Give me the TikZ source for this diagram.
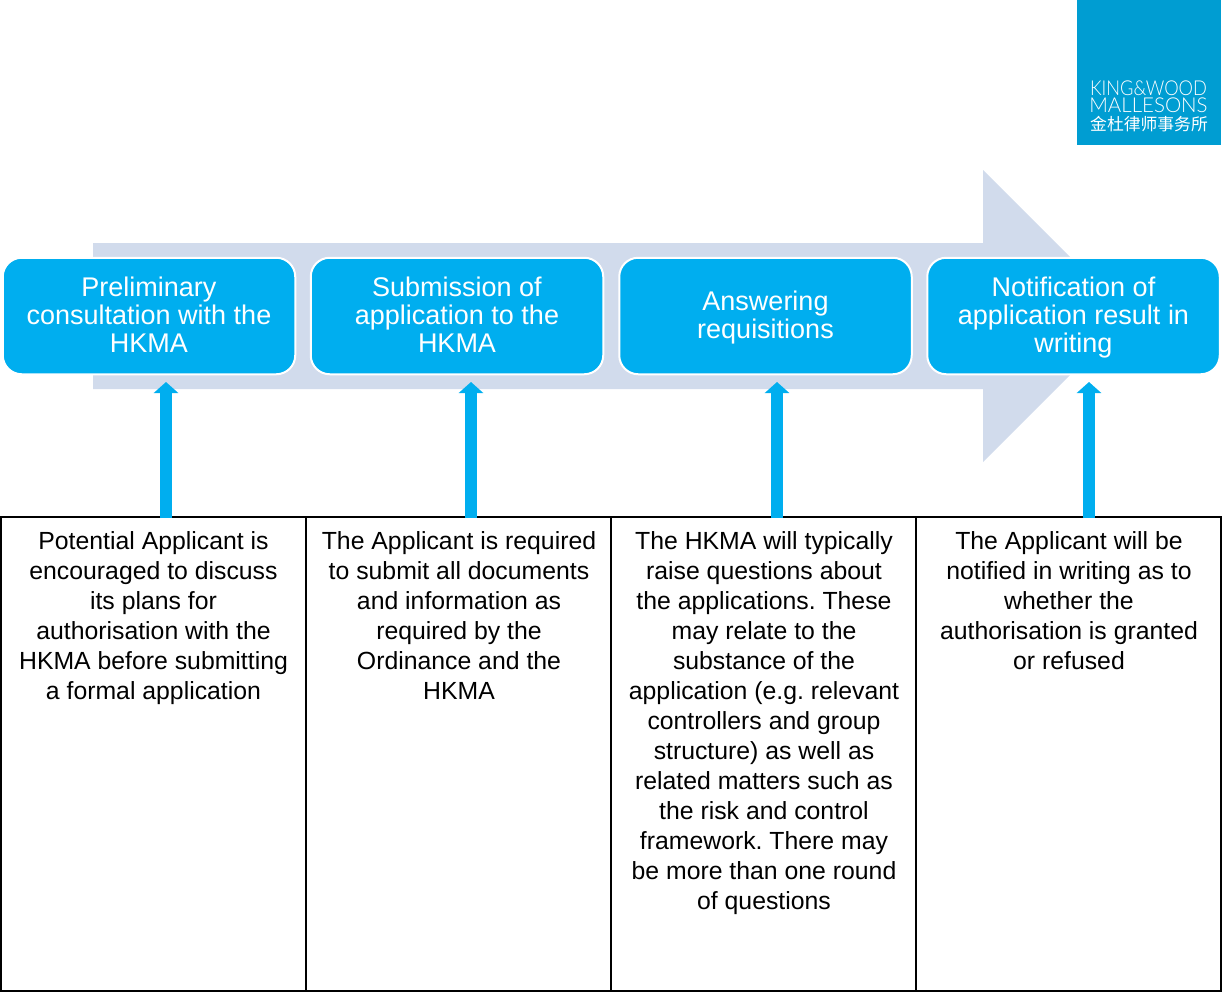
\documentclass[tikz,border=0pt]{standalone}
\usepackage{fontspec}
\setmainfont{Liberation Sans}
\newfontfamily\logolatin{Lato Light}
\newfontfamily\logonarrow[FakeStretch=0.89]{Lato Light}
\newfontfamily\logocjk{Noto Sans CJK SC}
\usetikzlibrary{arrows.meta, positioning}

\definecolor{stepblue}{HTML}{00AEEF}
\definecolor{bandblue}{HTML}{D1DBEC}
\definecolor{logoblue}{HTML}{009DD2}

\newcommand{\stepstrut}{\rule{0pt}{25.6pt}}

\tikzset{
  stepbox/.style={draw=white, line width=2pt, fill=stepblue, rounded corners=19pt,
    minimum width=292.5pt, minimum height=116.5pt, align=center, text=white, inner sep=0pt,
    font=\fontsize{27}{28}\selectfont, execute at end node=\strut},
  cellbox/.style={draw=black, line width=2pt, minimum width=305pt, minimum height=474pt,
    anchor=north west, inner sep=0pt},
  celltext/.style={anchor=north, align=center, inner sep=0pt, font=\fontsize{24.8}{30}\selectfont\frenchspacing},
  feedarrow/.style={draw=stepblue, line width=12pt, -{Triangle[width=24pt,length=11pt]}},
  logotext/.style={text=white, inner sep=0pt, text depth=0pt, anchor=base}
}

\begin{document}
\begin{tikzpicture}[x=1pt,y=-1pt]
\useasboundingbox (0,0) rectangle (1224,994);

\fill [bandblue] (93,243) -- (983,243) -- (983,170) -- (1129,316) -- (983,462) -- (983,389) -- (93,389) -- cycle;

\node [fill=logoblue, minimum width=144pt, minimum height=145pt, inner sep=0pt] (logo) at (1149,72.5) {};
\node [logotext, font=\logonarrow\fontsize{20.5}{20}\selectfont] (logoa) at (1148.5,95.5) {KING\&WOOD};
\node [logotext, font=\logolatin\fontsize{20.5}{20}\selectfont] (logob) at (1148.5,112.5) {MALLESONS};
\node [logotext, font=\logocjk\fontsize{16.8}{20}\selectfont] (logoc) at (1149,130) {金杜律师事务所};

\node [stepbox] (stepa) at (149,316)    {\stepstrut Preliminary\\consultation with the\\HKMA};
\node [stepbox] (stepb) at (457,316)    {\stepstrut Submission of\\application to the\\HKMA};
\node [stepbox] (stepc) at (765.5,316)  {\stepstrut Answering\\requisitions};
\node [stepbox] (stepd) at (1073.5,316) {\stepstrut Notification of\\application result in\\writing};

\node [cellbox] (cella) at (0,516)   {};
\node [cellbox] (cellb) at (305,516) {};
\node [cellbox] (cellc) at (610,516) {};
\node [cellbox] (celld) at (915,516) {};

\foreach \name/\x in {a/166, b/471, c/777, d/1089}
{
  \coordinate (base\name) at (\x,518);
  \coordinate (tip\name) at (\x,382);
  \draw [feedarrow] (base\name) -- (tip\name);
}

\node [celltext] (texta) at (153.5,531) {Potential Applicant is\\encouraged to discuss\\its plans for\\authorisation with the\\HKMA before submitting\\a formal application};
\node [celltext] (textb) at (459,531) {The Applicant is required\\to submit all documents\\and information as\\required by the\\Ordinance and the\\HKMA};
\node [celltext] (textc) at (764,531) {The HKMA will typically\\raise questions about\\the applications. These\\may relate to the\\substance of the\\application (e.g. relevant\\controllers and group\\structure) as well as\\related matters such as\\the risk and control\\framework. There may\\be more than one round\\of questions};
\node [celltext] (textd) at (1069,531) {The Applicant will be\\notified in writing as to\\whether the\\authorisation is granted\\or refused};
\end{tikzpicture}
\end{document}
